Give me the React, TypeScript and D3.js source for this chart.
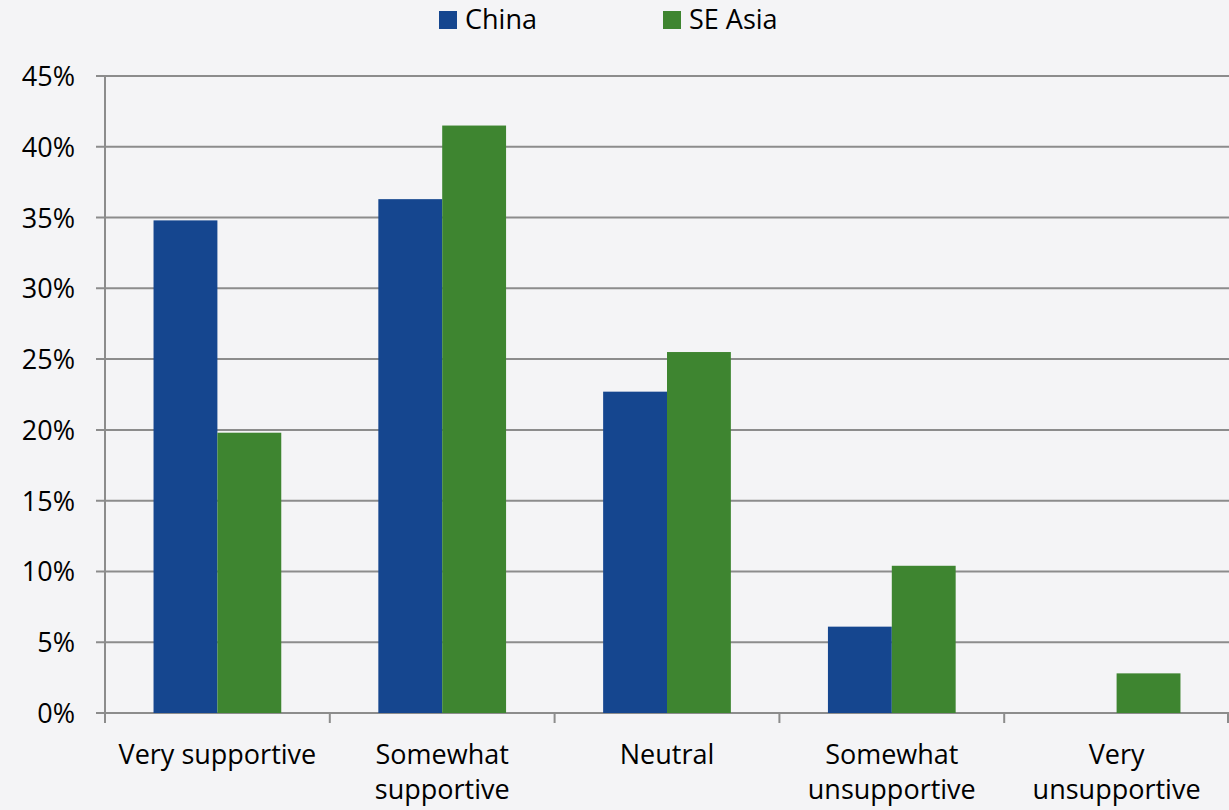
import React from "react";
import * as d3 from "d3";

const categories: string[][] = [
  ["Very supportive"],
  ["Somewhat", "supportive"],
  ["Neutral"],
  ["Somewhat", "unsupportive"],
  ["Very", "unsupportive"],
];
const seriesNames = ["China", "SE Asia"];
const china = [34.8, 36.3, 22.7, 6.1, 0];
const seAsia = [19.8, 41.5, 25.5, 10.4, 2.8];
const yTicks = [0, 5, 10, 15, 20, 25, 30, 35, 40, 45];
const colors = ["#15468F", "#3E8530"];

const W = 1229;
const H = 810;
const M = { left: 105, right: 0, top: 76, bottom: 97 };
const FONT = "'Open Sans', sans-serif";
const FS = 27;
const GRID = "#8C8C8C";

export default function App() {
  const x0 = d3
    .scaleBand<number>()
    .domain(d3.range(categories.length))
    .range([M.left, W - M.right])
    .paddingInner(0)
    .paddingOuter(0);
  const inner = d3
    .scaleBand<number>()
    .domain([0, 1])
    .range([0, x0.bandwidth()])
    .paddingOuter(0.76)
    .paddingInner(0);
  const y = d3.scaleLinear().domain([0, 45]).range([H - M.bottom, M.top]);
  const series = [china, seAsia];
  const bottom = y(0);

  return (
    <svg
      width={W}
      height={H}
      style={{ position: "absolute", left: 0, top: 0, background: "#F4F4F6" }}
      fontFamily={FONT}
    >
      <rect x={0} y={0} width={W} height={H} fill="#F4F4F6" />
      {/* legend */}
      {seriesNames.map((name, i) => {
        const lx = [439, 663][i];
        return (
          <g key={name}>
            <rect x={lx} y={11} width={18} height={18} fill={colors[i]} />
            <text x={lx + 26} y={29} fontSize={FS} fill="#000">
              {name}
            </text>
          </g>
        );
      })}
      {/* gridlines and y ticks */}
      {yTicks.map((t) => (
        <g key={t}>
          <line
            x1={M.left - 9}
            x2={W - M.right}
            y1={y(t)}
            y2={y(t)}
            stroke={GRID}
            strokeWidth={2}
          />
          <text
            x={75}
            y={y(t) + 10}
            textAnchor="end"
            fontSize={FS}
            fill="#000"
          >
            {t}%
          </text>
        </g>
      ))}
      {/* bars */}
      {series.map((vals, si) =>
        vals.map((v, ci) =>
          v > 0 ? (
            <rect
              key={`${si}-${ci}`}
              x={(x0(ci) as number) + (inner(si) as number)}
              y={y(v)}
              width={inner.bandwidth()}
              height={bottom - y(v)}
              fill={colors[si]}
            />
          ) : null
        )
      )}
      {/* axes */}
      <line x1={M.left} x2={M.left} y1={y(45)} y2={bottom} stroke={GRID} strokeWidth={2} />
      {d3.range(categories.length + 1).map((i) => {
        const xx = i < categories.length ? (x0(i) as number) : W - M.right - 1;
        return (
          <line key={i} x1={xx} x2={xx} y1={bottom} y2={bottom + 10} stroke={GRID} strokeWidth={2} />
        );
      })}
      {categories.map((lines, ci) => {
        const cx = (x0(ci) as number) + x0.bandwidth() / 2;
        return (
          <text key={ci} x={cx} textAnchor="middle" fontSize={FS} fill="#000">
            {lines.map((l, li) => (
              <tspan key={li} x={cx} y={764 + li * 35}>
                {l}
              </tspan>
            ))}
          </text>
        );
      })}
    </svg>
  );
}
